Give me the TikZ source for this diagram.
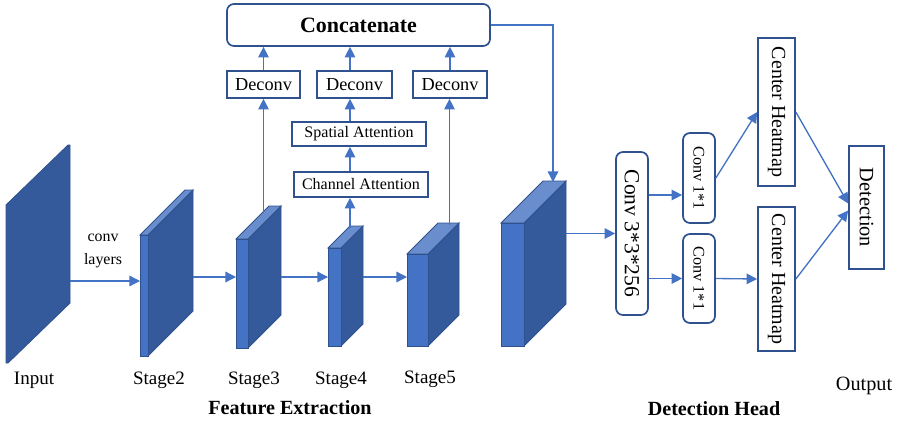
\documentclass[tikz,border=0pt]{standalone}
\usepackage{fontspec}
\setmainfont{Liberation Serif}
\usepackage{graphicx}
\usetikzlibrary{arrows.meta, calc}
\definecolor{lineblue}{HTML}{4472C4}
\definecolor{edgeblue}{HTML}{2F528F}
\definecolor{frontblue}{HTML}{4472C4}
\definecolor{sideblue}{HTML}{345A9B}
\definecolor{topblue}{HTML}{6A8ECD}
\tikzstyle{box} = [rectangle, 
draw=edgeblue, 
line width=1.2pt, 
fill=white, 
inner sep=0pt, 
text centered]
\tikzstyle{rbox} = [box, rounded corners=5pt]
\tikzstyle{arrow} = [line width=0.95pt, draw=lineblue, -{Triangle[length=7.5pt,width=7.5pt]}]
\tikzstyle{label} = [inner sep=0pt, font=\fontsize{13.5}{15}\selectfont]
\tikzstyle{title} = [inner sep=0pt, font=\bfseries\fontsize{14.3}{16}\selectfont]
% slab: x, top y, front width, height, depth (pixel units)
\newcommand{\slab}[5]{%
  \filldraw[fill=sideblue, draw=edgeblue, line width=0.6pt] (#1+#3,#2) -- ++(#5,-#5) -- ++(0,#4) -- ++(-#5,#5) -- cycle;
  \filldraw[fill=topblue, draw=edgeblue, line width=0.6pt] (#1,#2) -- ++(#5,-#5) -- ++(#3,0) -- ++(-#5,#5) -- cycle;
  \filldraw[fill=frontblue, draw=edgeblue, line width=0.6pt] (#1,#2) rectangle ++(#3,#4);
}

\begin{document}
\begin{tikzpicture}[x=0.025cm, y=-0.025cm]

        \useasboundingbox (0,0) rectangle (897,422);

        % Feature maps
        \filldraw[fill=sideblue, draw=edgeblue, line width=0.6pt] (6,205) -- (68,145) -- (70,145) -- (70,303) -- (8,363) -- (6,363) -- cycle;
        \slab{140}{235}{8}{121}{45}
        \slab{236}{239}{12}{109}{33}
        \slab{328}{248}{13}{98}{22}
        \slab{407}{254}{21}{92}{31}
        \slab{501}{223}{23}{123}{42}

        \coordinate (inr) at (70,281);
        \coordinate (s2l) at (140,281);
        \coordinate (s2r) at (193,277);
        \coordinate (s3l) at (236,277);
        \coordinate (s3r) at (281,277);
        \coordinate (s4l) at (328,277);
        \coordinate (s4r) at (363,277);
        \coordinate (s5l) at (407,277);
        \coordinate (s3t) at (263.5,213);
        \coordinate (s4t) at (350,228);
        \coordinate (s5t) at (449.5,225);
        \coordinate (bigt) at (553,182);
        \coordinate (bigr) at (566,233.5);

        % Nodes
        \node (concat) [rbox, minimum width=6.575cm, minimum height=1.05cm, font=\bfseries\fontsize{15.6}{17}\selectfont] at (358.5,25) {Concatenate};
        \node (dc1) [box, minimum width=1.825cm, minimum height=0.675cm, font=\fontsize{13}{15}\selectfont] at (263.5,84.5) {Deconv};
        \node (dc2) [box, minimum width=1.875cm, minimum height=0.675cm, font=\fontsize{13}{15}\selectfont] at (354.5,84.5) {Deconv};
        \node (dc3) [box, minimum width=1.85cm, minimum height=0.675cm, font=\fontsize{13}{15}\selectfont] at (450,84.5) {Deconv};
        \node (sa) [box, minimum width=3.35cm, minimum height=0.6cm, font=\fontsize{11.4}{13}\selectfont] at (359,134) {Spatial Attention};
        \node (ca) [box, minimum width=3.35cm, minimum height=0.625cm, font=\fontsize{11.4}{13}\selectfont] at (361,184.5) {Channel Attention};
        \node (conv3) [rbox, minimum width=0.8cm, minimum height=4.075cm, font=\fontsize{15.3}{17}\selectfont] at (632,233.5) {\rotatebox{-90}{Conv 3*3*256}};
        \node (conv1a) [rbox, minimum width=0.8cm, minimum height=2.25cm, font=\fontsize{11.5}{13}\selectfont] at (699,178) {\rotatebox{-90}{Conv 1*1}};
        \node (conv1b) [rbox, minimum width=0.8cm, minimum height=2.225cm, font=\fontsize{11.5}{13}\selectfont] at (699,278.5) {\rotatebox{-90}{Conv 1*1}};
        \node (cha) [box, minimum width=0.925cm, minimum height=3.7cm, font=\fontsize{14.2}{16}\selectfont] at (776.5,112) {\rotatebox{-90}{Center Heatmap}};
        \node (chb) [box, minimum width=0.925cm, minimum height=3.6cm, font=\fontsize{14.2}{16}\selectfont] at (776.5,279) {\rotatebox{-90}{Center Heatmap}};
        \node (det) [box, minimum width=0.875cm, minimum height=3.075cm, font=\fontsize{14.5}{16}\selectfont] at (866.5,207.5) {\rotatebox{-90}{Detection}};

        \node (convl) [align=center, inner sep=0pt, font=\fontsize{11.3}{17}\selectfont] at (103,251) {conv\\layers};
        \node (in) [label] at (34,380) {Input};
        \node (st2) [label] at (159,380) {Stage2};
        \node (st3) [label] at (254,380) {Stage3};
        \node (st4) [label] at (341,380) {Stage4};
        \node (st5) [label] at (430,379) {Stage5};
        \node (out) [label, font=\fontsize{14.4}{16}\selectfont] at (864,386) {Output};
        \node (fe) [title] at (290,408) {Feature Extraction};
        \node (dh) [title] at (714,409) {Detection Head};

        \coordinate (ja) at ($(conv1a.west)+(0,17)$);
        \coordinate (da) at ($(det.west)+(0,-4)$);
        \coordinate (db) at ($(det.west)+(0,3)$);

        % Connections
        \draw [arrow] (inr) -- (s2l);
        \draw [arrow] (s2r) -- (s3l);
        \draw [arrow] (s3r) -- (s4l);
        \draw [arrow] (s4r) -- (s5l);
        \draw [arrow] (s3t) -- (s3t |- dc1.south);
        \draw [arrow] (s4t) -- (s4t |- ca.south);
        \draw [arrow] (s4t |- ca.north) -- (s4t |- sa.south);
        \draw [arrow] (s4t |- sa.north) -- (s4t |- dc2.south);
        \draw [arrow] (s5t) -- (s5t |- dc3.south);
        \draw [arrow] (dc1.north) -- (dc1.north |- concat.south);
        \draw [arrow] (s4t |- dc2.north) -- (s4t |- concat.south);
        \draw [arrow] (dc3.north) -- (dc3.north |- concat.south);
        \draw [arrow] (concat.east) -| (bigt);
        \draw [arrow] (bigr) -- (conv3.west);
        \draw [arrow] (conv3.east |- ja) -- (ja);
        \draw [arrow] (conv3.east |- conv1b.west) -- (conv1b.west);
        \draw [arrow] (conv1a.east) -- (cha.west);
        \draw [arrow] (conv1b.east) -- (chb.west);
        \draw [arrow] (cha.east) -- (da);
        \draw [arrow] (chb.east) -- (db);

    \end{tikzpicture}
\end{document}
